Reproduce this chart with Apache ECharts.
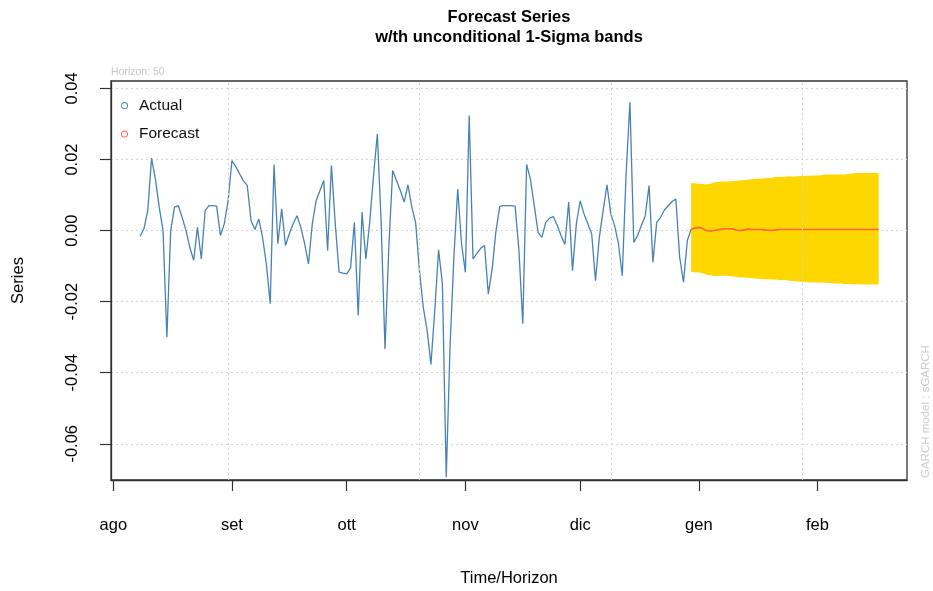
<!DOCTYPE html>
<html>
<head>
<meta charset="utf-8">
<script src="https://cdn.jsdelivr.net/npm/echarts@6/dist/echarts.min.js"></script>
<style>
  html, body { margin: 0; padding: 0; background: #ffffff; }
  #chart { width: 933px; height: 591px; }
</style>
</head>
<body>
<div id="chart"></div>
<script>
// Daily returns, first observation on 2022-08-08
const actualStart = '2022-08-08';
const actualValues = [
  -0.0016, 0.0005, 0.0056, 0.0204, 0.0145, 0.0066, 0.0000, -0.0300, 0.0000, 0.0066,
  0.0070, 0.0037, 0.0000, -0.0047, -0.0084, 0.0009, -0.0080, 0.0056, 0.0070, 0.0070,
  0.0069, -0.0014, 0.0019, 0.0084, 0.0197, 0.0180, 0.0160, 0.0140, 0.0127, 0.0028,
  0.0003, 0.0033, -0.0019, -0.0094, -0.0206, 0.0186, -0.0037, 0.0061, -0.0042, -0.0009,
  0.0019, 0.0042, 0.0009, -0.0037, -0.0094, 0.0019, 0.0084, 0.0113, 0.0141, -0.0056,
  0.0183, 0.0019, -0.0117, -0.0120, -0.0122, -0.0105, 0.0023, -0.0239, 0.0052, -0.0080,
  0.0023, 0.0155, 0.0272, 0.0020, -0.0333, -0.0047, 0.0169, 0.0141, 0.0113, 0.0080,
  0.0129, 0.0066, 0.0023, -0.0113, -0.0216, -0.0281, -0.0377, -0.0225, -0.0054, -0.0150,
  -0.0694, -0.0324, -0.0075, 0.0117, -0.0037, -0.0117, 0.0324, -0.0080, -0.0064, -0.0050,
  -0.0042, -0.0178, -0.0108, 0.0000, 0.0068, 0.0070, 0.0070, 0.0070, 0.0069, -0.0056,
  -0.0262, 0.0186, 0.0145, 0.0070, -0.0005, -0.0019, 0.0023, 0.0035, 0.0039, 0.0014,
  -0.0014, -0.0039, 0.0080, -0.0113, 0.0019, 0.0084, 0.0047, 0.0019, -0.0009, -0.0141,
  -0.0019, 0.0056, 0.0129, 0.0047, 0.0014, -0.0037, -0.0127, 0.0160, 0.0361, -0.0033,
  -0.0014, 0.0014, 0.0042, 0.0127, -0.0089, 0.0023, 0.0037, 0.0058, 0.0070, 0.0082,
  0.0089, -0.0075, -0.0145, -0.0028, 0.0004
];

// 50-step ahead forecast, first step on 2022-12-30
const forecastStart = '2022-12-30';
const forecastValues = [
  0.0004, 0.0007, 0.0009, 0.0006, 0.0000, -0.0002, 0.0000, 0.0002, 0.0004, 0.0005,
  0.0005, 0.0004, 0.0001, 0.0000, 0.0002, 0.0004, 0.0003, 0.0003, 0.0003, 0.0002,
  0.0001, 0.0000, 0.0002, 0.0003, 0.0003, 0.0003, 0.0003, 0.0003, 0.0003, 0.0003,
  0.0003, 0.0003, 0.0003, 0.0003, 0.0003, 0.0003, 0.0003, 0.0003, 0.0003, 0.0003,
  0.0003, 0.0003, 0.0003, 0.0003, 0.0003, 0.0003, 0.0003, 0.0003, 0.0003, 0.0003
];

// Forecast +/- 1 sigma
const bandUpper = [
  0.0134, 0.0133, 0.0132, 0.0131, 0.0130, 0.0132, 0.0135, 0.0137, 0.0138, 0.0138,
  0.0139, 0.0139, 0.0140, 0.0142, 0.0142, 0.0143, 0.0145, 0.0146, 0.0146, 0.0147,
  0.0148, 0.0149, 0.0151, 0.0151, 0.0151, 0.0152, 0.0152, 0.0152, 0.0153, 0.0154,
  0.0154, 0.0154, 0.0155, 0.0155, 0.0156, 0.0158, 0.0158, 0.0158, 0.0158, 0.0158,
  0.0158, 0.0159, 0.0161, 0.0162, 0.0162, 0.0162, 0.0162, 0.0162, 0.0162, 0.0162
];
const bandLower = [
  -0.0116, -0.0117, -0.0118, -0.0120, -0.0124, -0.0126, -0.0128, -0.0128, -0.0127, -0.0127,
  -0.0128, -0.0129, -0.0131, -0.0132, -0.0132, -0.0133, -0.0134, -0.0135, -0.0136, -0.0137,
  -0.0137, -0.0138, -0.0138, -0.0139, -0.0139, -0.0140, -0.0142, -0.0142, -0.0143, -0.0144,
  -0.0145, -0.0146, -0.0146, -0.0146, -0.0146, -0.0147, -0.0147, -0.0148, -0.0149, -0.0149,
  -0.0150, -0.0150, -0.0151, -0.0151, -0.0152, -0.0152, -0.0152, -0.0152, -0.0152, -0.0152
];

// Month ticks on the date axis
const monthTicks = ['2022-08-01', '2022-09-01', '2022-10-01', '2022-11-01', '2022-12-01', '2023-01-01', '2023-02-01'];
const monthLabels = ['ago', 'set', 'ott', 'nov', 'dic', 'gen', 'feb'];
// Vertical reference lines every 50 days
const gridDates = ['2022-08-31', '2022-10-20', '2022-12-09', '2023-01-28'];
const yTicks = [-0.06, -0.04, -0.02, 0.00, 0.02, 0.04];

const DAY = 86400000;
function toTime(s) {
  const p = s.split('-').map(Number);
  return Date.UTC(p[0], p[1] - 1, p[2]);
}
function dailyDates(start, n) {
  const p = start.split('-').map(Number);
  const out = [];
  for (let i = 0; i < n; i++) out.push(Date.UTC(p[0], p[1] - 1, p[2] + i));
  return out;
}

const actualDates = dailyDates(actualStart, actualValues.length);
const forecastDates = dailyDates(forecastStart, forecastValues.length);
const tickTimes = monthTicks.map(toTime);

const actualData = actualDates.map((t, i) => [t, actualValues[i]]);
const forecastData = forecastDates.map((t, i) => [t, forecastValues[i]]);
const bandData = forecastDates.map((t, i) => [t, bandUpper[i], bandLower[i]]);

// Open circle used as legend marker
const RING = 'path://M10,0A10,10,0,1,1,10,20A10,10,0,1,1,10,0ZM10,2.6A7.4,7.4,0,1,0,10,17.4A7.4,7.4,0,1,0,10,2.6Z';

const FONT = 'Liberation Sans, Arial, sans-serif';
const axisText = { color: '#000', fontFamily: FONT, fontSize: 16.5 };
const chart = echarts.init(document.getElementById('chart'), null, { renderer: 'canvas' });

chart.setOption({
  animation: false,
  backgroundColor: '#ffffff',
  title: {
    text: 'Forecast Series',
    subtext: 'w/th unconditional 1-Sigma bands',
    left: 504,
    top: 4,
    textAlign: 'center',
    itemGap: 3,
    textStyle: { fontFamily: FONT, fontWeight: 'bold', fontSize: 16.5, color: '#000' },
    subtextStyle: { fontFamily: FONT, fontWeight: 'bold', fontSize: 16.5, color: '#000' }
  },
  legend: {
    orient: 'vertical',
    left: 121,
    top: 97,
    padding: 0,
    itemWidth: 19,
    itemHeight: 7,
    itemGap: 11.5,
    selectedMode: false,
    textStyle: { fontFamily: FONT, fontSize: 15.5, color: '#111', lineHeight: 17 },
    data: [
      { name: 'Actual', icon: RING, itemStyle: { color: '#4682B4' } },
      { name: 'Forecast', icon: RING, itemStyle: { color: '#FF6347' } }
    ]
  },
  graphic: [
    {
      type: 'text', left: 111, top: 67,
      style: { text: 'Horizon: 50', fill: '#c8c8c8', fontSize: 10.5, fontFamily: FONT }
    },
    {
      type: 'text', x: 920, y: 478, rotation: Math.PI / 2,
      style: { text: 'GARCH model : sGARCH', fill: '#cccccc', fontSize: 11.5, fontFamily: FONT }
    }
  ],
  grid: {
    left: 111, top: 81, width: 796, height: 399,
    outerBoundsMode: 'none',
    containLabel: false,
    show: true, borderColor: '#333', borderWidth: 1.3, backgroundColor: 'transparent'
  },
  xAxis: {
    type: 'value',
    min: toTime('2022-08-01') - 0.6 * DAY,
    max: toTime('2022-08-01') + 207.4 * DAY,
    name: 'Time/Horizon',
    nameLocation: 'middle',
    nameGap: 90,
    nameTextStyle: axisText,
    axisLine: { show: true, onZero: false, lineStyle: { color: '#333', width: 1.3 } },
    axisTick: { show: true, customValues: tickTimes, length: 11, lineStyle: { color: '#333', width: 1.2 } },
    axisLabel: {
      customValues: tickTimes,
      margin: 37,
      ...axisText,
      formatter: function (val) {
        const i = tickTimes.indexOf(val);
        return i >= 0 ? monthLabels[i] : '';
      }
    },
    splitLine: { show: false }
  },
  yAxis: {
    type: 'value',
    min: -0.0702,
    max: 0.0421,
    name: 'Series',
    nameLocation: 'middle',
    nameGap: 84,
    nameRotate: 90,
    nameTextStyle: axisText,
    axisLine: { show: true, onZero: false, lineStyle: { color: '#333', width: 1.3 } },
    axisTick: { show: true, customValues: yTicks, length: 11, lineStyle: { color: '#333', width: 1.2 } },
    axisLabel: {
      customValues: yTicks,
      rotate: 90,
      margin: 30,
      ...axisText,
      formatter: function (v) { return v.toFixed(2); }
    },
    splitLine: { show: true, lineStyle: { color: '#d3d3d3', width: 1, type: [2, 3] } }
  },
  series: [
    {
      name: 'grid',
      type: 'line',
      data: [],
      silent: true,
      z: 1,
      markLine: {
        silent: true,
        symbol: 'none',
        label: { show: false },
        lineStyle: { color: '#d3d3d3', width: 1, type: [2, 3] },
        data: gridDates.map(d => ({ xAxis: toTime(d) }))
      }
    },
    {
      name: 'band',
      type: 'custom',
      data: bandData,
      encode: { x: 0, y: [1, 2] },
      silent: true,
      z: 2,
      renderItem: function (params, api) {
        if (params.dataIndex !== 0) return null;
        const top = bandData.map(d => api.coord([d[0], d[1]]));
        const bottom = bandData.map(d => api.coord([d[0], d[2]])).reverse();
        return {
          type: 'polygon',
          shape: { points: top.concat(bottom) },
          style: { fill: '#FFD700', stroke: null }
        };
      }
    },
    {
      name: 'Actual',
      type: 'line',
      data: actualData,
      showSymbol: false,
      z: 3,
      itemStyle: { color: '#4682B4' },
      lineStyle: { color: '#4682B4', width: 1.3 }
    },
    {
      name: 'Forecast',
      type: 'line',
      data: forecastData,
      showSymbol: false,
      z: 4,
      itemStyle: { color: '#FF6347' },
      lineStyle: { color: '#FF6347', width: 1.6 }
    }
  ]
});
</script>
</body>
</html>
